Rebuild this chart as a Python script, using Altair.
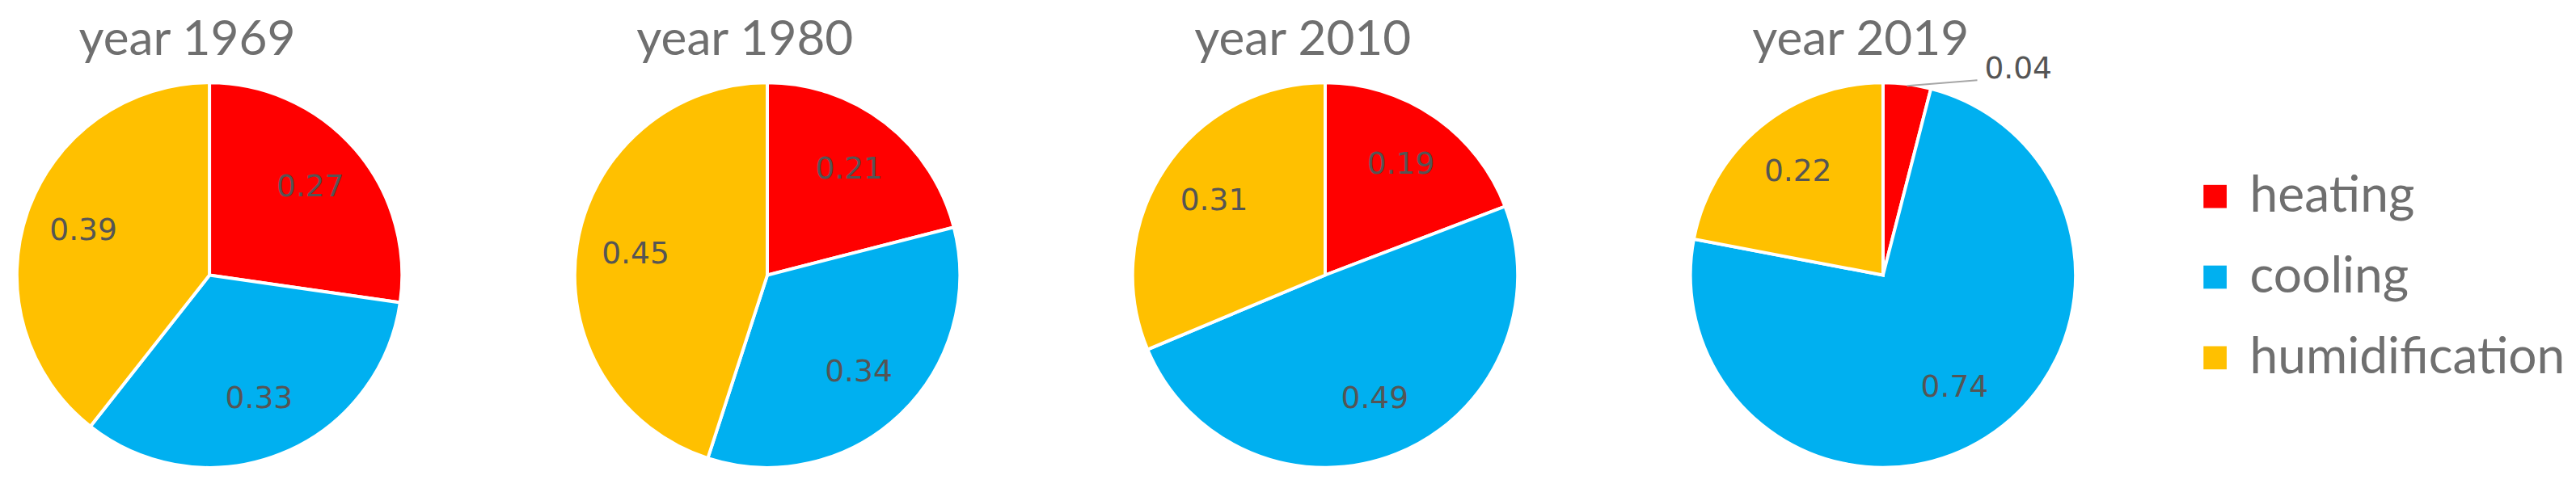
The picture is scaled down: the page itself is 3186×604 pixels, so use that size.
import altair as alt
import pandas as pd

years = ["1969", "1980", "2010", "2019"]
categories = ["heating", "cooling", "humidification"]
heating = [0.27, 0.21, 0.19, 0.04]
cooling = [0.33, 0.34, 0.49, 0.74]
humidification = [0.39, 0.45, 0.31, 0.22]
colors = ["#FF0000", "#00B0F0", "#FFC000"]

rows = []
for i, y in enumerate(years):
    for j, (c, vals) in enumerate(zip(categories, [heating, cooling, humidification])):
        rows.append({"year": y, "category": c, "idx": j, "value": vals[i]})
df = pd.DataFrame(rows)
titles = pd.DataFrame({"year": years, "title": [f"year {y}" for y in years]})

R = 241
SIZE = 2 * R
TITLE_COLOR = "#6f6f6f"
LABEL_COLOR = "#555555"


def pie(year):
    base = alt.Chart(df).transform_filter(alt.datum.year == year)
    enc = dict(theta=alt.Theta("value:Q", stack=True), order=alt.Order("idx:Q"))
    arcs = base.mark_arc(outerRadius=R, stroke="white", strokeWidth=4).encode(
        color=alt.Color(
            "category:N",
            scale=alt.Scale(domain=categories, range=colors),
            legend=alt.Legend(orient="none", legendX=2719, legendY=111, title=None),
        ),
        **enc,
    )
    labels_in = (
        base.transform_calculate(lab="datum.value >= 0.1 ? format(datum.value, '.2f') : ''")
        .mark_text(radius=167, font="DejaVu Sans", fontSize=38, color=LABEL_COLOR)
        .encode(text="lab:N", **enc)
    )
    outer = (
        base.transform_joinaggregate(total="sum(value)")
        .transform_window(cum="sum(value)", sort=[{"field": "idx"}], frame=[None, 0])
        .transform_calculate(
            mid="2*PI*(datum.cum - datum.value/2)/datum.total",
        )
        .transform_calculate(
            px=f"{R} + {R - 2}*sin(datum.mid)",
            py=f"{R} - {R - 2}*cos(datum.mid)",
        )
        .transform_calculate(px2="datum.px + 88", py2="datum.py - 7")
        .transform_filter(alt.datum.value < 0.1)
    )
    leader = outer.mark_rule(color="#a6a6a6", strokeWidth=2).encode(
        x=alt.X("px:Q", scale=None, axis=None),
        y=alt.Y("py:Q", scale=None, axis=None),
        x2="px2:Q",
        y2="py2:Q",
    )
    labels_out = outer.mark_text(
        font="DejaVu Sans", fontSize=38, color=LABEL_COLOR, align="left", baseline="middle", dx=97, dy=-20
    ).encode(
        x=alt.X("px:Q", scale=None, axis=None),
        y=alt.Y("py:Q", scale=None, axis=None),
        text=alt.Text("value:Q", format=".2f"),
    )
    title = (
        alt.Chart(titles)
        .transform_filter(alt.datum.year == year)
        .mark_text(
            font="Lato",
            fontSize=61,
            color=TITLE_COLOR,
            baseline="alphabetic",
            align="center",
        )
        .encode(text="title:N", x=alt.value(R - 28), y=alt.value(-35))
    )
    return alt.layer(arcs, labels_in, leader, labels_out, title).properties(
        width=SIZE,
        height=SIZE,
    )


chart = (
    alt.hconcat(*[pie(y) for y in years], spacing=200)
    .resolve_scale(color="shared")
    .properties(
        padding={"left": 5, "top": 8, "right": 5, "bottom": 2},
    )
    .configure_view(stroke=None)
    .configure_legend(
        symbolType="square",
        symbolSize=841,
        symbolStrokeWidth=0,
        labelFont="Lato",
        labelFontSize=63,
        labelColor=TITLE_COLOR,
        labelOffset=12,
        rowPadding=37,
        labelLimit=600,
        padding=0,
    )
)

chart.save("out.html", embed_options={"renderer": "svg", "actions": False})
